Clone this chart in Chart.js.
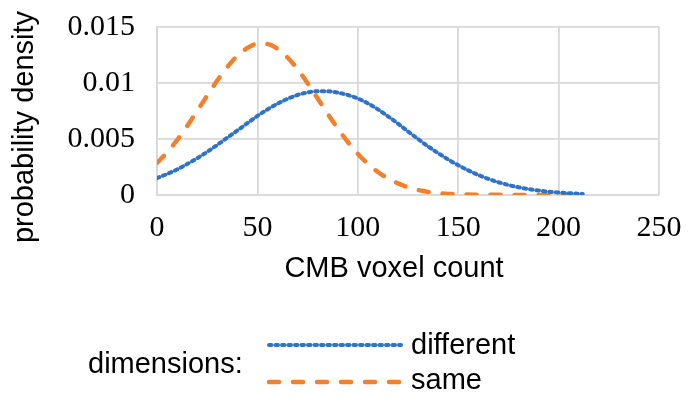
<!DOCTYPE html>
<html>
<head>
<meta charset="utf-8">
<script src="https://cdn.jsdelivr.net/npm/chart.js@4/dist/chart.umd.min.js"></script>
<style>
  html, body { margin: 0; padding: 0; background: #fff; }
  #wrap { width: 689px; height: 402px; }
</style>
</head>
<body>
<div id="wrap"><canvas id="chart" width="689" height="402"></canvas></div>
<script>
// datos
const xDifferent = [0, 5, 10, 15, 20, 25, 30, 35, 40, 45, 50, 55, 60, 65, 70, 75, 80, 85, 90, 95, 100,
  105, 110, 115, 120, 125, 130, 135, 140, 145, 150, 155, 160, 165, 170, 175, 180, 185, 190, 195, 200, 205, 212];
const yDifferent = [0.00151, 0.00187, 0.00228, 0.00276, 0.00328, 0.00385, 0.00447, 0.00511, 0.00576, 0.00641,
  0.00706, 0.00764, 0.00815, 0.00859, 0.00893, 0.00916, 0.00927, 0.00926, 0.00914, 0.00893, 0.00862,
  0.00818, 0.00765, 0.00703, 0.00637, 0.00568, 0.00500, 0.00434, 0.00374, 0.00317, 0.00266, 0.00220,
  0.00179, 0.00144, 0.00114, 0.00089, 0.00069, 0.00053, 0.00040, 0.00029, 0.00022, 0.00016, 0.00010];

const xSame = [0, 5, 10, 15, 20, 25, 30, 35, 40, 45, 50, 55, 60, 65, 70, 75, 80, 85, 90, 95, 100,
  105, 110, 115, 120, 125, 130, 135, 140, 145, 150, 160, 170, 180, 190, 200, 206];
const ySame = [0.00286, 0.00380, 0.00490, 0.00615, 0.00750, 0.00888, 0.01022, 0.01143, 0.01243, 0.01312,
  0.01350, 0.01348, 0.01305, 0.01228, 0.01124, 0.00998, 0.00862, 0.00725, 0.00594, 0.00474, 0.00368,
  0.00278, 0.00205, 0.00148, 0.00104, 0.00070, 0.00045, 0.00028, 0.00017, 0.00010, 0.00006, 0.00003,
  0.00002, 0.00001, 0.00001, 0.00001, 0.00001];

const yTickLabels = ['0', '0.005', '0.01', '0.015'];
const xTickLabels = ['0', '50', '100', '150', '200', '250'];

const seriesNames = ['different', 'same'];
const legendTitle = 'dimensions:';
const xTitle = 'CMB voxel count';
const yTitle = 'probability density';

const toPoints = (xs, ys) => xs.map((x, i) => ({ x: x, y: ys[i] }));

const blue = '#2e73c8';
const orange = '#f5802b';
const sans = "'Liberation Sans', Arial, sans-serif";
const serif = "'Liberation Serif', 'Times New Roman', serif";

// títulos de ejes y leyenda dibujados a mano
const extras = {
  id: 'extras',
  afterDraw(chart) {
    const ctx = chart.ctx;
    ctx.save();
    ctx.fillStyle = '#000';
    ctx.font = '29px ' + sans;

    // título eje x
    ctx.textAlign = 'center';
    ctx.textBaseline = 'alphabetic';
    ctx.fillText(xTitle, 394, 277);

    // título eje y
    ctx.save();
    ctx.translate(25, 127);
    ctx.rotate(-Math.PI / 2);
    ctx.textBaseline = 'middle';
    ctx.fillText(yTitle, 0, 0);
    ctx.restore();

    // leyenda
    ctx.textAlign = 'left';
    ctx.textBaseline = 'alphabetic';
    ctx.fillText(legendTitle, 88, 373);
    const rows = [345, 382];
    const bases = [354, 389];
    chart.data.datasets.forEach((ds, i) => {
      ctx.save();
      ctx.strokeStyle = ds.borderColor;
      ctx.lineWidth = ds.borderWidth;
      ctx.setLineDash(ds.borderDash);
      ctx.lineCap = ds.borderCapStyle;
      ctx.beginPath();
      ctx.moveTo(269, rows[i]);
      ctx.lineTo(401, rows[i]);
      ctx.stroke();
      ctx.restore();
      ctx.fillText(ds.label, 411, bases[i]);
    });
    ctx.restore();
  }
};

new Chart(document.getElementById('chart'), {
  type: 'line',
  data: {
    datasets: [
      {
        label: seriesNames[0],
        data: toPoints(xDifferent, yDifferent),
        borderColor: blue,
        borderWidth: 4,
        borderDash: [2.5, 4],
        borderCapStyle: 'round',
        pointRadius: 0,
        cubicInterpolationMode: 'monotone',
        fill: false,
      },
      {
        label: seriesNames[1],
        data: toPoints(xSame, ySame),
        borderColor: orange,
        borderWidth: 4.5,
        borderDash: [10, 14],
        borderCapStyle: 'round',
        pointRadius: 0,
        cubicInterpolationMode: 'monotone',
        fill: false,
      },
    ],
  },
  options: {
    responsive: false,
    animation: false,
    layout: { padding: { left: 0, right: 30, top: 27, bottom: 0 } },
    plugins: {
      legend: { display: false },
      tooltip: { enabled: false },
    },
    scales: {
      x: {
        type: 'linear',
        min: 0,
        max: 250,
        afterFit: (s) => { s.height = 207; s.paddingLeft = 0; s.paddingRight = 0; },
        afterBuildTicks: (s) => { s.ticks = xTickLabels.map(Number).map((v) => ({ value: v })); },
        grid: { color: '#d9d9d9', lineWidth: 1.8, drawTicks: false },
        border: { color: '#d9d9d9', width: 1.8 },
        ticks: {
          color: '#000',
          font: { family: serif, size: 30 },
          padding: 15,
          maxRotation: 0,
          callback: (v, i) => xTickLabels[i],
        },
      },
      y: {
        min: 0,
        max: 0.015,
        afterFit: (s) => { s.width = 157; s.paddingTop = 0; s.paddingBottom = 0; },
        afterBuildTicks: (s) => { s.ticks = yTickLabels.map(Number).map((v) => ({ value: v })); },
        grid: { color: '#d9d9d9', lineWidth: 1.8, drawTicks: false },
        border: { color: '#d9d9d9', width: 1.8 },
        ticks: {
          color: '#000',
          font: { family: serif, size: 30 },
          padding: 22,
          callback: (v, i) => yTickLabels[i],
        },
      },
    },
  },
  plugins: [extras],
});
</script>
</body>
</html>
